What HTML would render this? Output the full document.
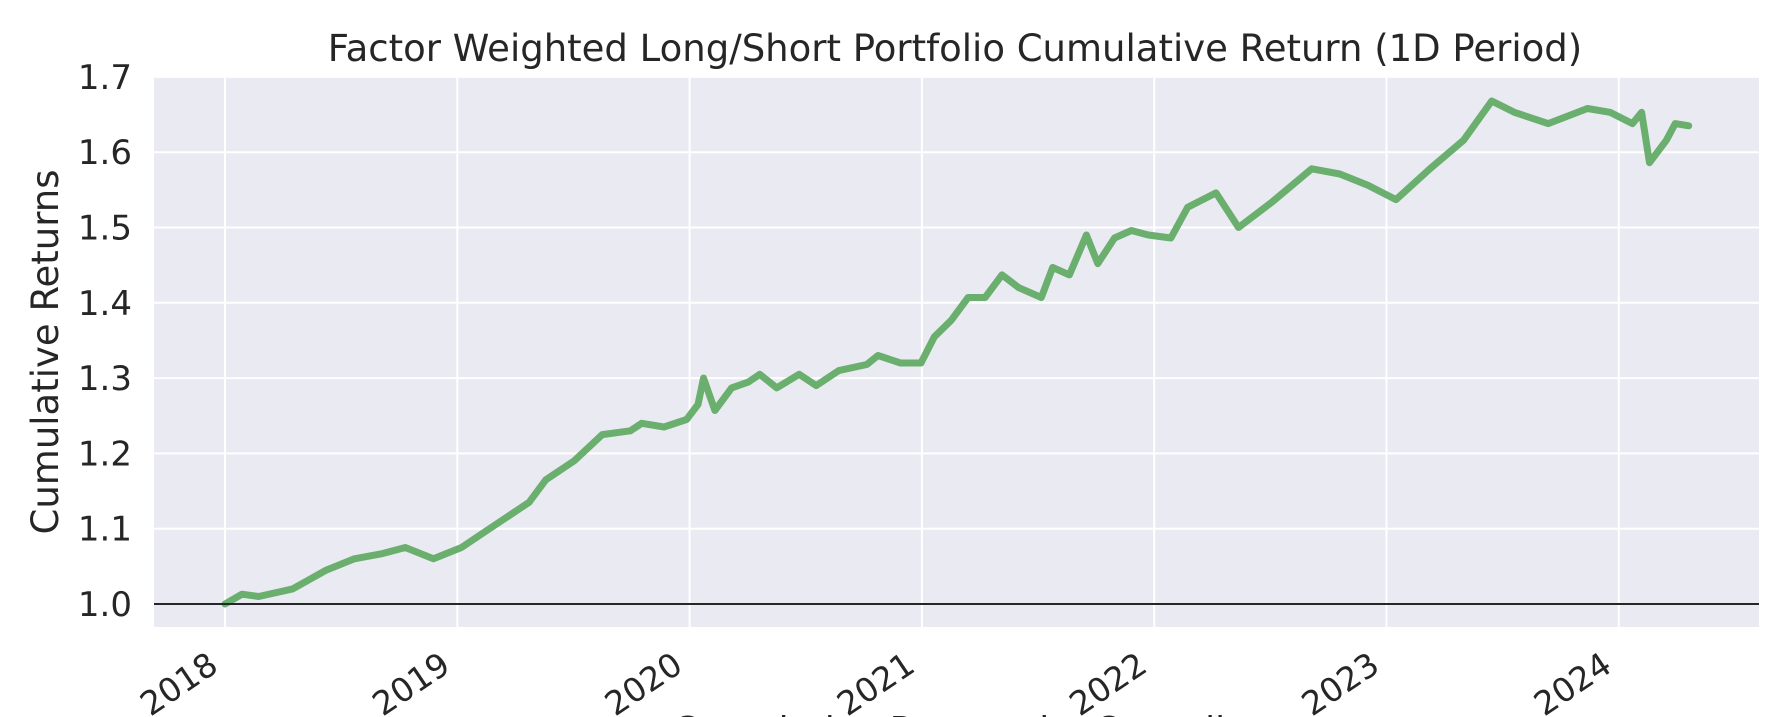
<!DOCTYPE html>
<html><head><meta charset="utf-8">
<style>
html,body{margin:0;padding:0;background:#fff;}
svg{display:block;font-family:"DejaVu Sans","Liberation Sans",sans-serif;}
</style></head>
<body>
<svg id="chart" width="1765" height="717" viewBox="0 0 1765 717">
  <rect x="154" y="76" width="1605" height="551" fill="#eaeaf2"/>
  <g id="grid"></g>
  <g id="line-layer"></g>
  <g id="ticks"></g>
  <text x="955" y="61" text-anchor="middle" font-size="37" fill="#262626">Factor Weighted Long/Short Portfolio Cumulative Return (1D Period)</text>
  <text transform="translate(58,352) rotate(-90)" text-anchor="middle" font-size="37" fill="#262626">Cumulative Returns</text>
  <text x="960" y="742" text-anchor="middle" font-size="36" fill="#262626">Cumulative Returns by Quantile</text>
</svg>
<script>
const dates = [2018.000,2018.073,2018.145,2018.291,2018.436,2018.557,2018.679,2018.776,2018.897,2019.018,2019.163,2019.309,2019.381,2019.503,2019.624,2019.745,2019.794,2019.890,2019.987,2020.036,2020.060,2020.109,2020.181,2020.254,2020.302,2020.375,2020.472,2020.545,2020.642,2020.763,2020.811,2020.908,2020.996,2021.054,2021.127,2021.199,2021.272,2021.345,2021.417,2021.514,2021.563,2021.635,2021.708,2021.757,2021.829,2021.902,2021.975,2022.072,2022.144,2022.266,2022.363,2022.508,2022.678,2022.799,2022.920,2023.041,2023.187,2023.332,2023.453,2023.550,2023.696,2023.865,2023.962,2024.059,2024.098,2024.132,2024.205,2024.243,2024.301];
const values = [1.000,1.013,1.010,1.020,1.045,1.060,1.067,1.075,1.060,1.075,1.105,1.135,1.165,1.190,1.225,1.230,1.240,1.235,1.245,1.265,1.300,1.257,1.287,1.295,1.305,1.287,1.305,1.290,1.310,1.318,1.330,1.320,1.320,1.355,1.377,1.407,1.407,1.437,1.420,1.407,1.447,1.437,1.490,1.452,1.486,1.496,1.490,1.486,1.527,1.546,1.500,1.534,1.578,1.571,1.556,1.537,1.578,1.616,1.668,1.653,1.638,1.658,1.653,1.638,1.653,1.586,1.616,1.638,1.635];
const yTicks = [1.0,1.1,1.2,1.3,1.4,1.5,1.6,1.7];
const xTicks = [2018,2019,2020,2021,2022,2023,2024];

const NS = "http://www.w3.org/2000/svg";
function xs(d){ return 225 + (d - 2018) * 232.3; }
function ys(v){ return 604 - (v - 1.0) / 0.1 * 75.3; }
function mk(tag, attrs, parent){
  const el = document.createElementNS(NS, tag);
  for (const k in attrs) el.setAttribute(k, attrs[k]);
  parent.appendChild(el);
  return el;
}
const grid = document.getElementById('grid');
const ticks = document.getElementById('ticks');
yTicks.forEach(v => {
  const l = mk('line', {x1:154, x2:1759, y1:ys(v), y2:ys(v), stroke:'#fff', 'stroke-width':2}, grid);
  
  
  const t = mk('text', {x:132, y:ys(v)+12, 'text-anchor':'end', 'font-size':34, fill:'#262626'}, ticks);
  t.textContent = v.toFixed(1);
  
  
});
xTicks.forEach(d => {
  const l = mk('line', {x1:xs(d), x2:xs(d), y1:76, y2:627, stroke:'#fff', 'stroke-width':2}, grid);
  
  
  const t = mk('text', {transform:'translate(' + (xs(d)-5) + ',670) rotate(-34)', 'text-anchor':'end', 'font-size':33, fill:'#262626'}, ticks);
  t.textContent = String(d);
  
  
});
const layer = document.getElementById('line-layer');
const pts = dates.map((d,i) => xs(d).toFixed(1) + ',' + ys(values[i]).toFixed(1)).join(' ');
const pl = mk('polyline', {points:pts, fill:'none', stroke:'#6aaf6e', 'stroke-width':7, 'stroke-linejoin':'round', 'stroke-linecap':'round'}, layer);


const base = mk('line', {x1:154, x2:1759, y1:ys(1.0), y2:ys(1.0), stroke:'#262626', 'stroke-width':2}, layer);


</script>
</body></html>
